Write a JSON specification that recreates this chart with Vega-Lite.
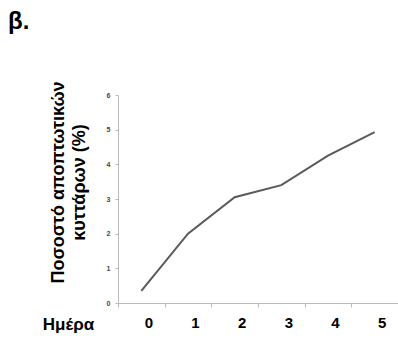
{
  "$schema": "https://vega.github.io/schema/vega-lite/v6.json",
  "width": 280,
  "height": 208,
  "autosize": "none",
  "padding": {"left": 118, "top": 95, "right": 0, "bottom": 35},
  "background": "white",
  "title": {"text": "β.", "anchor": "start", "frame": "group", "fontSize": 24, "fontWeight": "bold", "font": "Liberation Sans", "color": "black", "dx": -110, "offset": 47},
  "data": {"values": [
    {"day": 0, "pct": 0.35},
    {"day": 1, "pct": 2.0},
    {"day": 2, "pct": 3.05},
    {"day": 3, "pct": 3.4},
    {"day": 4, "pct": 4.25},
    {"day": 5, "pct": 4.93}
  ]},
  "mark": {"type": "line", "color": "#5a5a5a", "strokeWidth": 2},
  "encoding": {
    "x": {
      "field": "day", "type": "ordinal",
      "scale": {"type": "band", "paddingInner": 0, "paddingOuter": 0},
      "axis": {
        "title": "Ημέρα", "titleFont": "Liberation Sans", "titleFontSize": 17, "titleFontWeight": "bold", "titleColor": "black",
        "titleX": -50, "titleY": 21, "titleAlign": "center", "titleBaseline": "middle", "titleAnchor": null,
        "labelAngle": 0, "labelFont": "Liberation Sans", "labelFontSize": 15, "labelFontWeight": "bold", "labelColor": "black",
        "labelPadding": 8, "labelBaseline": "top",
        "labelOffset": 7,
        "tickBand": "extent", "tickSize": 4, "tickColor": "#bbbbbb", "domainColor": "#bbbbbb", "domainWidth": 1
      }
    },
    "y": {
      "field": "pct", "type": "quantitative",
      "scale": {"domain": [0, 6], "nice": false},
      "axis": {
        "title": ["Ποσοστό αποπτωτικών", "κυττάρων (%)"],
        "titleFont": "Liberation Sans", "titleFontSize": 18, "titleFontWeight": "bold", "titleColor": "black",
        "titleLineHeight": 21, "titleX": -69, "titleY": 87, "titleAlign": "center", "titleBaseline": "top", "titleAngle": -90,
        "values": [0, 1, 2, 3, 4, 5, 6], "grid": false,
        "labelFont": "Liberation Sans", "labelFontSize": 7, "labelFontWeight": "bold", "labelColor": "#444444", "labelPadding": 5,
        "tickSize": 3, "tickColor": "#bbbbbb", "domainColor": "#bbbbbb"
      }
    }
  },
  "config": {"view": {"stroke": null}}
}
